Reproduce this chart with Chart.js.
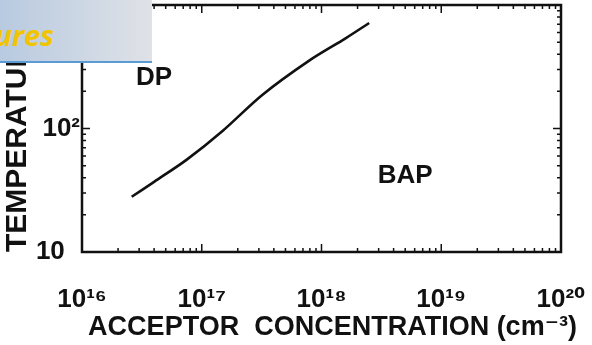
<!DOCTYPE html>
<html>
<head>
<meta charset="utf-8">
<script src="https://cdn.jsdelivr.net/npm/chart.js@4.4.1/dist/chart.umd.min.js"></script>
<style>
  body { margin: 0; background: #fff; }
  #wrap { position: relative; width: 592px; height: 345px; }
  #banner {
    position: absolute; left: 0; top: 0; width: 152px; height: 61px;
    background: linear-gradient(to right, #b8cae0, #dfe2e7);
    border-bottom: 2px solid #5b9bd5;
    overflow: hidden;
  }
  #banner span {
    position: absolute; right: 98px; top: 15px;
    font: italic bold 29px "Open Sans", sans-serif;
    color: #f2c400; white-space: nowrap;
  }
</style>
</head>
<body>
<div id="wrap">
  <canvas id="chart" width="592" height="345"></canvas>
  <div id="banner"><span>Figures</span></div>
</div>
<script>
// acceptor concentration (cm^-3) and boundary temperature (K)
const concentration = [2.6e16, 4.0e16, 7.5e16, 1.5e17, 3.2e17, 8.0e17, 1.6e18, 2.5e18];
const temperature   = [28, 37, 56, 96, 187, 358, 540, 715];

const xTickValues = [1e16, 1e17, 1e18, 1e19, 1e20];
const xTickLabels = ['10\u00b9\u2076', '10\u00b9\u2077', '10\u00b9\u2078', '10\u00b9\u2079', '10\u00b2\u2070'];
const yTickValues = [10, 100, 1000];
const yTickLabels = ['10\u2002\u200a', '10\u00b2', '10\u00b3'];

const xTitle = 'ACCEPTOR  CONCENTRATION (cm\u207b\u00b3)';
const yTitle = 'TEMPERATURE (K)';

// region names and where they sit (data coords)
const regionNames = ['DP', 'BAP'];
const regionConc  = [4e16, 5e18];
const regionTemp  = [256, 41];

Chart.defaults.font.family = '"Liberation Sans", "DejaVu Sans", sans-serif';
Chart.defaults.color = '#111';

const frameAndTicks = {
    id: 'frameAndTicks',
    afterDatasetsDraw(chart) {
        const { ctx, chartArea: a, scales: { x, y } } = chart;
        ctx.save();
        ctx.strokeStyle = '#111';
        ctx.lineWidth = 2.5;
        ctx.strokeRect(a.left, a.top, a.right - a.left, a.bottom - a.top);

        ctx.lineWidth = 1.5;
        ctx.beginPath();
        for (let d = 16; d <= 20; d++) {
            for (let m = 1; m <= 9; m++) {
                const v = m * Math.pow(10, d);
                if (v < x.min || v > x.max) continue;
                const px = x.getPixelForValue(v);
                const len = m === 1 ? 8 : 4;
                ctx.moveTo(px, a.bottom); ctx.lineTo(px, a.bottom - len);
                ctx.moveTo(px, a.top); ctx.lineTo(px, a.top + len);
            }
        }
        for (let d = 1; d <= 3; d++) {
            for (let m = 1; m <= 9; m++) {
                const v = m * Math.pow(10, d);
                if (v < y.min || v > y.max) continue;
                const py = y.getPixelForValue(v);
                const len = m === 1 ? 8 : 4;
                ctx.moveTo(a.left, py); ctx.lineTo(a.left + len, py);
                ctx.moveTo(a.right, py); ctx.lineTo(a.right - len, py);
            }
        }
        ctx.stroke();

        ctx.fillStyle = '#111';
        ctx.font = 'bold 26px "Liberation Sans", sans-serif';
        ctx.textAlign = 'center';
        ctx.textBaseline = 'middle';
        regionNames.forEach((name, i) => {
            ctx.fillText(name, x.getPixelForValue(regionConc[i]), y.getPixelForValue(regionTemp[i]));
        });

        // x title is wider than the plot, so it is drawn here without squeezing
        ctx.font = 'bold 27px "Liberation Sans", "DejaVu Sans", sans-serif';
        ctx.fillText(xTitle, (a.left + a.right) / 2 + 11, chart.height - 17);
        ctx.restore();
    }
};

new Chart(document.getElementById('chart'), {
    type: 'line',
    data: {
        datasets: [{
            data: concentration.map((c, i) => ({ x: c, y: temperature[i] })),
            borderColor: '#111',
            borderWidth: 2.6,
            pointRadius: 0,
            tension: 0.3,
            fill: false
        }]
    },
    options: {
        responsive: false,
        animation: false,
        layout: { padding: { top: 5, right: 31, left: 0, bottom: 0 } },
        plugins: {
            legend: { display: false },
            tooltip: { enabled: false }
        },
        scales: {
            x: {
                type: 'logarithmic',
                min: 1e16,
                max: 1e20,
                grid: { display: false },
                border: { display: false },
                afterBuildTicks: s => { s.ticks = xTickValues.map(v => ({ value: v })); },
                afterFit: s => {
                    s.height = 93;
                    s.paddingLeft = 0;
                    s.paddingRight = 0;
                },
                ticks: {
                    autoSkip: false,
                    maxRotation: 0,
                    padding: 24,
                    font: { size: 26, weight: 'bold' },
                    callback: (v, i) => xTickLabels[i]
                },
                title: { display: false }
            },
            y: {
                type: 'logarithmic',
                min: 10,
                max: 1000,
                grid: { display: false },
                border: { display: false },
                afterBuildTicks: s => { s.ticks = yTickValues.map(v => ({ value: v })); },
                afterFit: s => {
                    s.width = 82;
                    s.paddingTop = 0;
                    s.paddingBottom = 0;
                },
                ticks: {
                    autoSkip: false,
                    padding: -6,
                    font: { size: 26, weight: 'bold' },
                    callback: (v, i) => yTickLabels[i]
                },
                title: {
                    display: true,
                    text: yTitle,
                    align: 'start',
                    font: { size: 30, weight: 'bold' },
                    padding: { top: 0, bottom: 0 }
                }
            }
        }
    },
    plugins: [frameAndTicks]
});
</script>
</body>
</html>
